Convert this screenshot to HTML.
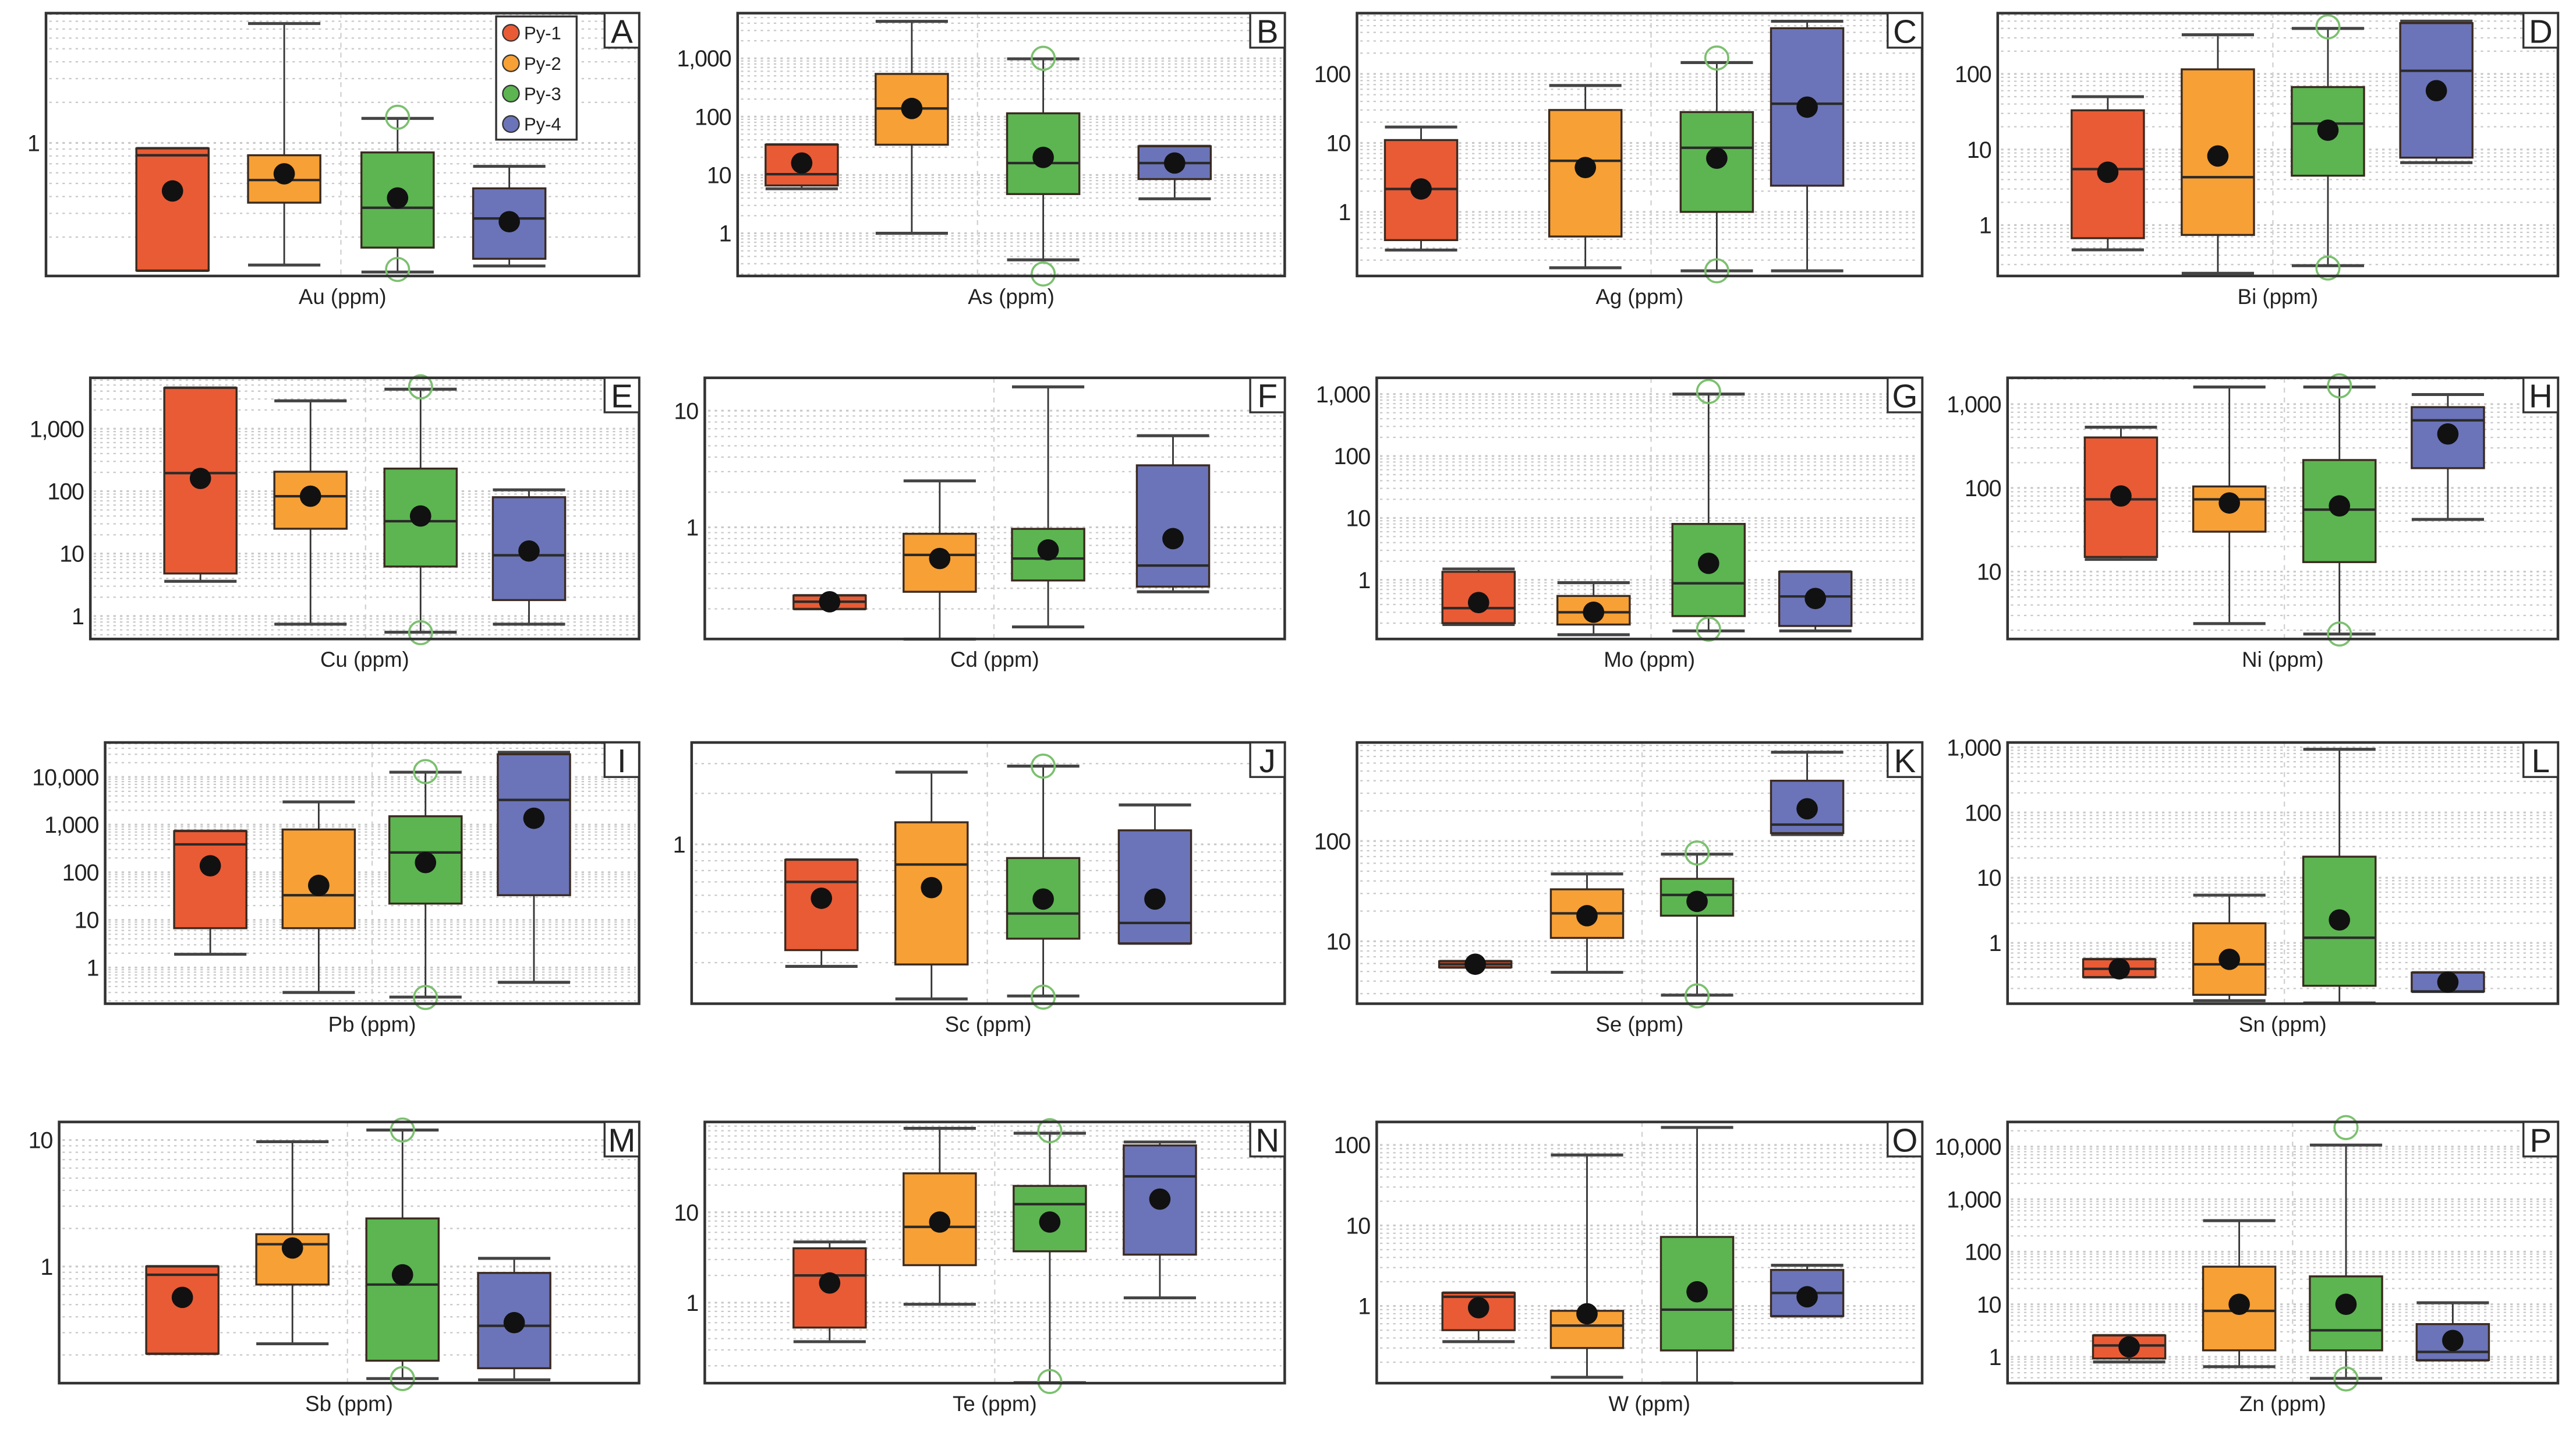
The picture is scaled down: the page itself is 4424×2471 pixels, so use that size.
<!DOCTYPE html>
<html><head><meta charset="utf-8"><style>
html,body{margin:0;padding:0;background:#fff;}
svg{display:block;}
text{font-family:"Liberation Sans",Arial,sans-serif;fill:#222;}
</style></head><body>
<svg id="fig" width="4424" height="2471" viewBox="0 0 1568 876" preserveAspectRatio="none" xmlns="http://www.w3.org/2000/svg"></svg>
<script>
const groups = ["Py-1","Py-2","Py-3","Py-4"];
const colors = ["#e95b35","#f7a035","#5cb551","#6b74b8"];
const elements = ["Au","As","Ag","Bi","Cu","Cd","Mo","Ni","Pb","Sc","Se","Sn","Sb","Te","W","Zn"];
const letters = ["A","B","C","D","E","F","G","H","I","J","K","L","M","N","O","P"];
const tickValues = [[1],[1,10,100,1000],[1,10,100],[1,10,100],[1,10,100,1000],[1,10],[1,10,100,1000],[10,100,1000],[1,10,100,1000,10000],[1],[10,100],[1,10,100,1000],[1,10],[1,10],[1,10,100],[1,10,100,1000,10000]];
const mins = [[0.113,0.124,0.11,0.122],[5.8,1,0.35,3.9],[0.28,0.155,0.14,0.14],[0.47,0.23,0.29,6.7],[3.6,0.74,0.55,0.74],[0.2,0.11,0.14,0.28],[0.19,0.13,0.15,0.15],[14,2.4,1.8,42],[1.9,0.3,0.24,0.49],[0.19,0.122,0.127,0.26],[5.5,4.9,2.9,116],[0.3,0.13,0.12,0.18],[0.205,0.245,0.13,0.127],[0.37,0.96,0.13,1.13],[0.36,0.13,0.11,0.75],[0.8,0.65,0.39,0.87]];
const q1s = [[0.113,0.36,0.167,0.138],[6.6,33,4.7,8.5],[0.39,0.44,1,2.4],[0.67,0.74,4.5,7.8],[4.8,25,6.2,1.8],[0.2,0.28,0.35,0.31],[0.2,0.19,0.26,0.18],[15,30,13,172],[6.7,6.7,22,33],[0.237,0.195,0.277,0.26],[5.5,10.8,18,120],[0.3,0.16,0.22,0.18],[0.205,0.72,0.18,0.157],[0.53,2.6,3.7,3.4],[0.5,0.3,0.28,0.75],[0.93,1.33,1.33,0.87]];
const medians = [[0.81,0.53,0.33,0.275],[10.3,138,16,16],[2.15,5.5,8.5,37],[5.5,4.3,22,110],[195,83,33,9.4],[0.23,0.58,0.54,0.47],[0.35,0.3,0.88,0.54],[73,73,55,640],[385,33,260,3300],[0.6,0.76,0.39,0.343],[5.9,19,29,146],[0.4,0.47,1.2,0.18],[0.86,1.5,0.72,0.34],[2,6.9,12.3,25],[1.3,0.57,0.9,1.45],[1.65,7.5,3.2,1.24]];
const q3s = [[0.91,0.81,0.85,0.46],[33,540,114,31],[11,30,28,460],[33,115,67,470],[4500,205,230,80],[0.26,0.88,0.97,3.4],[1.35,0.55,8,1.35],[400,104,215,920],[730,790,1500,30000],[0.81,1.35,0.83,1.21],[6.3,33,42,400],[0.56,2,21,0.35],[1,1.8,2.4,0.89],[4,27,19.6,55],[1.45,0.87,7.2,2.8],[2.55,52,34,4.2]];
const maxs = [[0.91,7.7,1.52,0.67],[33,4300,980,31],[17,68,146,580],[50,330,400,500],[4500,2800,4300,105],[0.26,2.5,16,6.1],[1.5,0.9,1000,1.35],[530,1600,1600,1300],[730,3000,12600,33000],[0.81,2.67,2.9,1.71],[6.3,47,74,770],[0.56,5.4,930,0.35],[1,9.7,12,1.16],[4.7,85,75,60],[1.45,75,165,3.2],[2.55,390,10700,10.7]];
const means = [[0.44,0.59,0.39,0.26],[16,138,20,16],[2.15,4.4,6,33],[5,8.2,18,60],[160,83,40,11],[0.23,0.54,0.64,0.8],[0.43,0.3,1.85,0.5],[80,66,61,440],[137,53,160,1360],[0.48,0.555,0.475,0.475],[5.9,18,25,210],[0.4,0.56,2.25,0.25],[0.57,1.4,0.86,0.36],[1.65,7.8,7.8,14],[0.95,0.8,1.5,1.3],[1.55,10,10,2.05]];
const outliersPy3 = [[1.55,0.115],[1000,0.2],[170,0.14],[420,0.27],[4700,0.54],[],[1100,0.16],[1650,1.8],[13000,0.235],[2.9,0.125],[76,2.85],[],[12,0.13],[80,0.13],[],[23000,0.38]];

/* layout (not data): frame rects, axis calibration, box centres */
const frames = [[28,8,389,168],[449,8,782,168],[826,8,1170,168],[1216,8,1557,168],
 [55,230,389,389],[429,230,782,389],[838,230,1170,389],[1222,230,1557,389],
 [64,452,389,611],[421,452,782,611],[826,452,1170,611],[1222,452,1557,611],
 [36,683,389,842],[429,683,782,842],[838,683,1170,842],[1222,683,1557,842]];
const calib = [[1,87,82],[1,142,35.5],[1,129,42],[1,137,46],[1,375,38],[1,321,71],[1,353,37.7],[10,348,51],
 [1,589,29],[1,514,103],[10,573,61],[1,574,39.7],[1,771,77],[1,793,55],[1,795,49],[1,826,32]];
const centers = [[105,173,242,310],[488,555,635,715],[865,965,1045,1100],[1283,1350,1417,1483],
 [122,189,256,322],[505,572,638,714],[900,970,1040,1105],[1291,1357,1424,1490],
 [128,194,259,325],[500,567,635,703],[898,966,1033,1100],[1290,1357,1424,1490],
 [111,178,245,313],[505,572,639,706],[900,966,1033,1100],[1296,1363,1428,1493]];

const NS="http://www.w3.org/2000/svg";
const svg=document.getElementById('fig');
function mk(tag,attrs,parent){const e=document.createElementNS(NS,tag);for(const k in attrs)e.setAttribute(k,attrs[k]);(parent||svg).appendChild(e);return e;}
function fmt(v){return v.toLocaleString('en-US');}

for(let p=0;p<16;p++){
  const [x0,y0,x1,y1]=frames[p];
  const [rv,ry,dec]=calib[p];
  const y=v=>ry-(Math.log10(v)-Math.log10(rv))*dec;
  const g=mk('g',{});
  
  
  const vTop=rv*Math.pow(10,(ry-y0)/dec), vBot=rv*Math.pow(10,(ry-y1)/dec);
  for(let e=Math.floor(Math.log10(vBot));e<=Math.ceil(Math.log10(vTop));e++){
    for(let m=1;m<=9;m++){
      const v=m*Math.pow(10,e); if(v<vBot||v>vTop) continue;
      const gy=y(v);
      const gl=mk('line',{x1:x0+2,x2:x1-2,y1:gy,y2:gy,stroke:'#c8c8c8','stroke-width':m===1?1.1:0.8,'stroke-dasharray':'1.5,2.5'},g);
      
      
    }
  }
  const mid=(centers[p][1]+centers[p][2])/2;
  const cl=mk('line',{x1:mid,x2:mid,y1:y0,y2:y1,stroke:'#d0d0d0','stroke-width':0.8,'stroke-dasharray':'3,3'},g);
  
  
  tickValues[p].forEach(v=>{
    const t=mk('text',{x:x0-4,y:y(v)+5,'text-anchor':'end','font-size':14,'letter-spacing':'-0.4'},g);
    t.textContent=fmt(v);
    
    
  });
  const bw=44;
  for(let s=0;s<4;s++){
    const cx=centers[p][s];
    const bg=mk('g',{},g);
    
    
    const ymax=y(maxs[p][s]),ymin=y(mins[p][s]),yq1=y(q1s[p][s]),yq3=y(q3s[p][s]),ymed=y(medians[p][s]);
    mk('line',{x1:cx,x2:cx,y1:ymax,y2:yq3,stroke:'#333','stroke-width':1},bg);
    mk('line',{x1:cx,x2:cx,y1:yq1,y2:ymin,stroke:'#333','stroke-width':1},bg);
    mk('line',{x1:cx-bw/2,x2:cx+bw/2,y1:ymax,y2:ymax,stroke:'#444','stroke-width':1.8},bg);
    mk('line',{x1:cx-bw/2,x2:cx+bw/2,y1:ymin,y2:ymin,stroke:'#444','stroke-width':1.8},bg);
    mk('rect',{x:cx-bw/2,y:yq3,width:bw,height:Math.max(yq1-yq3,1),fill:colors[s],stroke:'#3a2a20','stroke-width':1.2},bg);
    mk('line',{x1:cx-bw/2,x2:cx+bw/2,y1:ymed,y2:ymed,stroke:'#2a2a2a','stroke-width':1.5},bg);
    mk('ellipse',{cx:cx,cy:y(means[p][s]),rx:6.5,ry:6.5,fill:'#111'},bg);
    if(s===2){
      outliersPy3[p].forEach(v=>{
        const oc=mk('circle',{cx:cx,cy:Math.min(Math.max(y(v),y0+1),y1-1),r:7,fill:'none',stroke:'#7cc06f','stroke-width':1.3},bg);
        
        
      });
    }
  }
  const fr=mk('rect',{x:x0,y:y0,width:x1-x0,height:y1-y0,fill:'none',stroke:'#333','stroke-width':1.6},g);
  
  
  mk('rect',{x:x1-21,y:y0,width:21,height:21,fill:'#fff',stroke:'#333','stroke-width':1.2},g);
  const lt=mk('text',{x:x1-10.5,y:y0+18,'text-anchor':'middle','font-size':20},g);
  lt.textContent=letters[p];
  
  
  const xl=mk('text',{x:(x0+x1)/2,y:y1+17,'text-anchor':'middle','font-size':13},g);
  xl.textContent=elements[p]+' (ppm)';
  
  
}
const lg=mk('g',{});


mk('rect',{x:302,y:10,width:49,height:75,fill:'#fff',stroke:'#333','stroke-width':1.2},lg);
groups.forEach((n,i)=>{
  const ey=20+i*18.5;
  const c=mk('circle',{cx:311,cy:ey,r:5,fill:colors[i],stroke:'#333','stroke-width':0.8},lg);
  
  
  const t=mk('text',{x:319,y:ey+4,'font-size':11},lg);
  t.textContent=n;
  
  
});
</script>
</body></html>
